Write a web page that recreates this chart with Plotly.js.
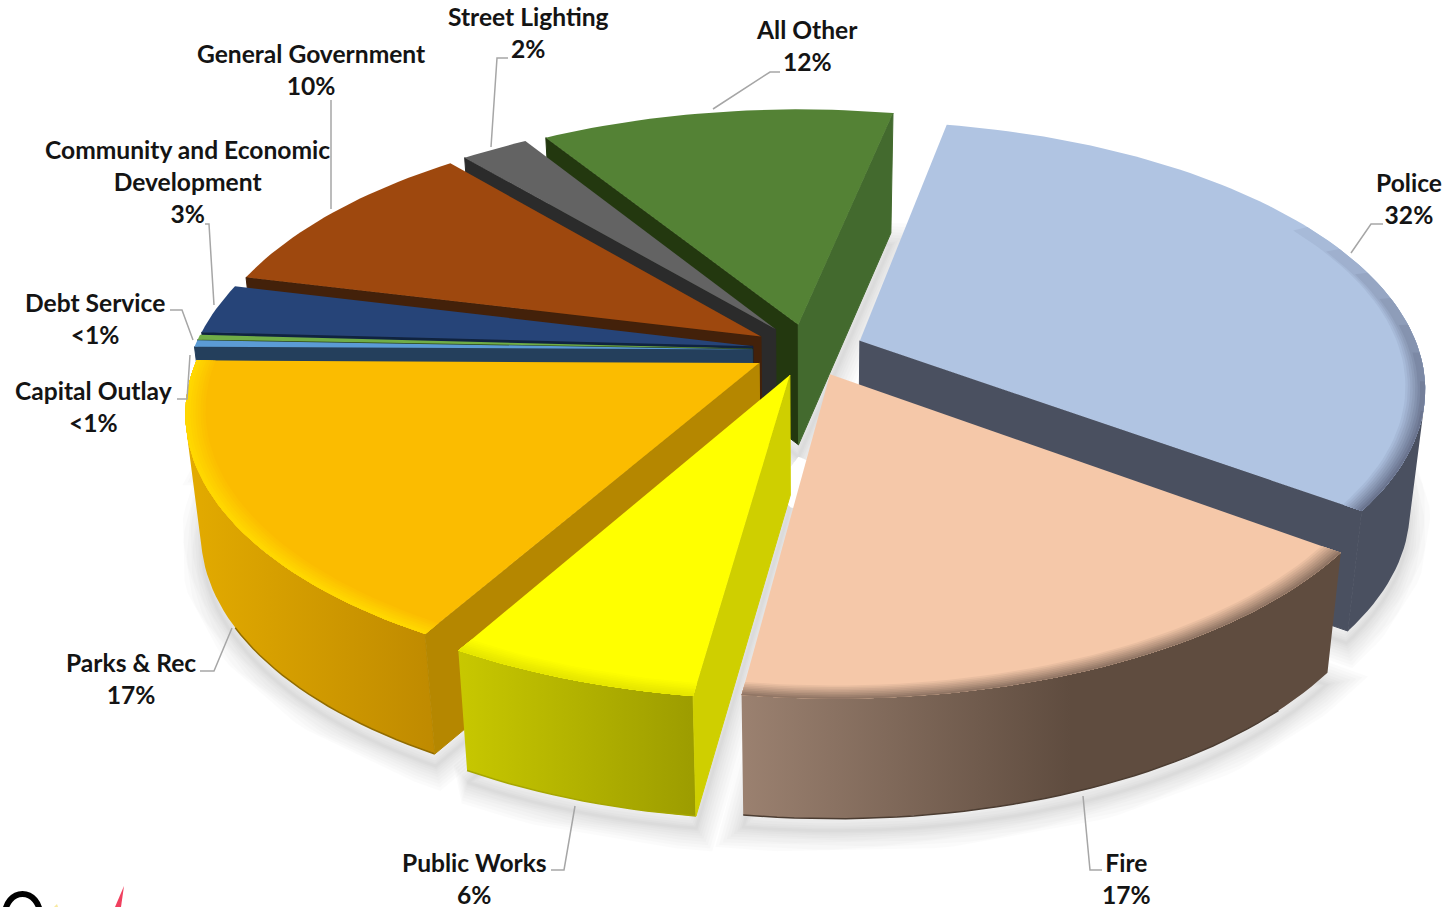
<!DOCTYPE html>
<html>
<head>
<meta charset="utf-8">
<title>General Fund Expenditures</title>
<script src="https://cdn.plot.ly/plotly-3.0.1.min.js"></script>
<style>
  html, body { margin: 0; padding: 0; background: #fff; overflow: hidden; }
  #chart { width: 1448px; height: 907px; }
</style>
</head>
<body>
<div id="chart"></div>
<script>
// Budget shares, clockwise from the Police wedge
const categories = ["Police", "Fire", "Public Works", "Parks & Rec", "Capital Outlay",
  "Debt Service", "Community and Economic<br>Development", "General Government",
  "Street Lighting", "All Other"];
const shareValues = [32, 17, 6, 17, 0.4, 0.3, 3, 10, 2.3, 12];
const shareLabels = ["32%", "17%", "6%", "17%", "<1%", "<1%", "3%", "10%", "2%", "12%"];

// Wedge colours: top face, cut faces, outer wall
const topColors = ["#b0c4e2", "#f5c8a9", "#ffff00", "#fbbc00", "#5b9bd5", "#70ad47", "#264478", "#9e480e", "#636363", "#548235"];
const startFaceColors = ["#4a5060", "#5f4c3f", "#cfcf00", "#b58700", "#243f5c", "#2c451b", "#0f2340", "#43210a", "#2b2b2b", "#23380f"];
const endFaceColors = ["#4a5060", "#5f4c3f", "#cfcf00", "#b58700", "#243f5c", "#2c451b", "#0f2340", "#43210a", "#2b2b2b", "#436a2e"];
const wallScales = [
  [[0, "#4a5060"], [1, "#4a5060"]],
  [[0, "#9b8170"], [0.55, "#5f4c3f"], [1, "#5f4c3f"]],
  [[0, "#c8c800"], [1, "#9c9c00"]],
  [[0, "#e3ab00"], [1, "#bf8a00"]],
  [[0, "#243f5c"], [1, "#243f5c"]],
  [[0, "#2c451b"], [1, "#2c451b"]],
  [[0, "#0f2340"], [1, "#0f2340"]],
  [[0, "#43210a"], [1, "#43210a"]],
  [[0, "#2b2b2b"], [1, "#2b2b2b"]],
  [[0, "#436a2e"], [1, "#436a2e"]]
];
// Rim highlight on the front wedges: colour at the edge, and degrees skipped from the wedge start
const bevelEdge = { 0: "#6b7590", 1: "#917665", 2: "#e6e600", 3: "#ffd800" };
const bevelSkip = { 0: 50, 1: 0, 2: 0, 3: 0 };
const bevelTaper = { 0: 50, 1: 0, 2: 0, 3: 0 };

// Pie geometry on a pixel-sized plot area
const firstAngle = 11.4, explosion = 0.1;
const cx = 808, cy = 350, radiusX = 559, radiusY = 260, perspective = 0.17;
const wallDrop = 120, wallShrink = 0.025;

function project(x, v, depth) {
  const s = 1 / (1 - perspective * v);
  return [cx + radiusX * x * s * (1 - wallShrink * depth), cy + radiusY * v * s + wallDrop * depth];
}
const total = shareValues.reduce((a, b) => a + b, 0);
const rad = d => d * Math.PI / 180;

let running = firstAngle;
const wedges = shareValues.map((value, i) => {
  const start = running, end = running + value / total * 360;
  running = end;
  const mid = (start + end) / 2;
  return { i, start, end, ox: explosion * Math.sin(rad(mid)), ov: -explosion * Math.cos(rad(mid)) };
});

const rimPoint = (w, angle, r, depth) =>
  project(w.ox + r * Math.sin(rad(angle)), w.ov - r * Math.cos(rad(angle)), depth);
const apexPoint = (w, depth) => project(w.ox, w.ov, depth);

function arc(w, from, to, r, depth) {
  const n = Math.max(2, Math.ceil(Math.abs(to - from) / 1.5));
  const pts = [];
  for (let k = 0; k <= n; k++) pts.push(rimPoint(w, from + (to - from) * k / n, r, depth));
  return pts;
}
function area(poly) {
  let s = 0;
  poly.forEach((p, k) => {
    const q = poly[(k + 1) % poly.length];
    s += p[0] * q[1] - q[0] * p[1];
  });
  return s;
}
function polygon(pts, fill, extra) {
  const closed = pts.concat([pts[0]]);
  return Object.assign({
    type: "scatter", mode: "lines", x: closed.map(p => p[0]), y: closed.map(p => p[1]),
    fill: "toself", fillcolor: fill, line: { width: 0, color: fill },
    hoverinfo: "skip", showlegend: false
  }, extra || {});
}
function hex(c) { return [1, 3, 5].map(k => parseInt(c.substr(k, 2), 16)); }
function mix(a, b, t) {
  const p = hex(a), q = hex(b);
  return "rgb(" + p.map((v, k) => Math.round(v + (q[k] - v) * t)).join(",") + ")";
}

const traces = [];

// Soft ground shadow: nested wide strokes around the wedge footprints
const footprintX = [], footprintY = [];
wedges.forEach(w => {
  const pts = [apexPoint(w, 1.1)].concat(arc(w, w.start, w.end, 1, 1.1));
  pts.push(pts[0]);
  pts.forEach(p => { footprintX.push(p[0]); footprintY.push(p[1]); });
  footprintX.push(null); footprintY.push(null);
});
[44, 38, 32, 26, 20, 15, 10, 6, 3].forEach(width => {
  traces.push({
    type: "scatter", mode: "lines", x: footprintX, y: footprintY,
    line: { width, color: "rgba(0,0,0,0.014)", shape: "linear" },
    hoverinfo: "skip", showlegend: false
  });
});

// Wedges are painted from the far side of the pie to the near side
wedges.slice().sort((a, b) => a.ov - b.ov).forEach(w => {
  const i = w.i;
  const aT = apexPoint(w, 0), aB = apexPoint(w, 1);
  const sT = rimPoint(w, w.start, 1, 0), sB = rimPoint(w, w.start, 1, 1);
  const eT = rimPoint(w, w.end, 1, 0), eB = rimPoint(w, w.end, 1, 1);

  // Outer wall: only the stretches that face the viewer
  const step = 1;
  let run = [];
  const flush = () => {
    if (run.length > 1) {
      const from = run[0], to = run[run.length - 1];
      const poly = arc(w, from, to, 1, 0).concat(arc(w, to, from, 1, 1));
      traces.push(polygon(poly, startFaceColors[i], {
        fillgradient: { type: "horizontal", colorscale: wallScales[i] }
      }));
      // Darker lower lip, only along the part of the wall that faces forward
      const lipFrom = Math.max(from, 135), lipTo = Math.min(to, 240);
      if (lipTo > lipFrom) {
        const edge = arc(w, lipFrom, lipTo, 1, 1);
        traces.push({
          type: "scatter", mode: "lines", x: edge.map(p => p[0]), y: edge.map(p => p[1]),
          line: { width: 1.5, color: mix(startFaceColors[i], "#000000", 0.2) },
          hoverinfo: "skip", showlegend: false
        });
      }
    }
    run = [];
  };
  for (let t = w.start; t < w.end; t += step) {
    const t2 = Math.min(t + step, w.end);
    const quad = [rimPoint(w, t, 1, 0), rimPoint(w, t2, 1, 0), rimPoint(w, t2, 1, 1), rimPoint(w, t, 1, 1)];
    if (area(quad) < 0) {
      if (!run.length) run.push(t);
      run.push(t2);
    } else flush();
  }
  flush();

  // Cut faces along the two radii; the hairline stroke closes the seam against the wall
  const startFace = [aT, sT, sB, aB], endFace = [eT, aT, aB, eB];
  if (area(startFace) < 0) traces.push(polygon(startFace, startFaceColors[i], { line: { width: 1, color: startFaceColors[i] } }));
  if (area(endFace) < 0) traces.push(polygon(endFace, endFaceColors[i], { line: { width: 1, color: endFaceColors[i] } }));

  // Top face
  traces.push(polygon([aT].concat(arc(w, w.start, w.end, 1, 0)), topColors[i]));

  // Bevel: narrowing strips that blend the top colour into the rim colour;
  // darker strips begin later, so the shading fades in along the rim
  if (bevelEdge[i]) {
    const steps = 8, width = 0.034;
    for (let b = 0; b < steps; b++) {
      const from = w.start + bevelSkip[i] + bevelTaper[i] * (b / steps);
      const r = 1 - width * (1 - b / steps);
      const strip = arc(w, from, w.end, r, 0).concat(arc(w, w.end, from, 1, 0));
      traces.push(polygon(strip, mix(topColors[i], bevelEdge[i], (b + 1) / steps)));
    }
  }
});

// Label text centres and their grey leader lines
const labelX = [1409, 1126, 474, 131, 93, 95, 187, 311, 528, 807];
const labelY = [198, 878, 878, 678, 406, 318, 181, 69, 32, 45];
const leaderPaths = [
  "M1351,253 L1371,224 L1383,224",
  "M1083,796 L1090,870 L1102,870",
  "M575,806 L564,870 L551,870",
  "M232,628 L214,671 L200,671",
  "M190,355 L187,399 L177,399",
  "M193,340 L182,310 L170,310",
  "M214,305 L209,224 L205,224",
  "M331,209 L331,100",
  "M491,147 L497,58 L508,58",
  "M713,109 L770,72 L780,72"
];
const annotations = categories.map((name, i) => ({
  x: labelX[i], y: labelY[i], xref: "x", yref: "y", xanchor: "center", yanchor: "middle",
  text: name + "<br>" + shareLabels[i].replace("<", "&lt;"), showarrow: false,
  font: { family: "Lato, 'Open Sans', sans-serif", size: 24.6, color: "#141414", weight: 700 }
}));
const shapes = leaderPaths.map(path => ({
  type: "path", path, xref: "x", yref: "y", line: { color: "#a6a6a6", width: 1.5 }
}));

// Corner of the municipal logo at the lower left
shapes.push({ type: "circle", xref: "x", yref: "y", x0: 5, y0: 894, x1: 40, y1: 935, line: { color: "#000", width: 6 } });
shapes.push({ type: "path", xref: "x", yref: "y", path: "M124,886 L121,907 L115,907 Z", fillcolor: "#f0405f", line: { width: 0 } });
shapes.push({ type: "path", xref: "x", yref: "y", path: "M57,904 L58,907 L54,907 Z", fillcolor: "#f8e9a0", line: { width: 0 } });

Plotly.newPlot("chart", traces, {
  width: 1448, height: 907,
  margin: { l: 0, r: 0, t: 0, b: 0 },
  paper_bgcolor: "#fff", plot_bgcolor: "#fff", showlegend: false,
  xaxis: { range: [0, 1448], visible: false, fixedrange: true },
  yaxis: { range: [907, 0], visible: false, fixedrange: true },
  annotations, shapes
}, { displayModeBar: false, staticPlot: true });
</script>
</body>
</html>
